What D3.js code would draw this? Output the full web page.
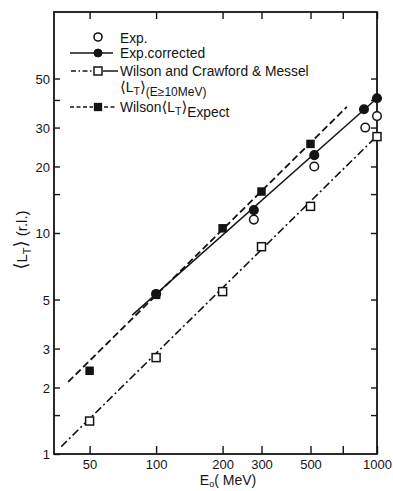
<!DOCTYPE html>
<meta charset="utf-8">
<script src="https://d3js.org/d3.v7.min.js"></script>
<title>Mean track length vs E0</title>
<style>
body { margin: 0; background: #fff; }
svg { font-family: "Liberation Sans", "DejaVu Sans", sans-serif; }
</style>
<svg width="393" height="491"></svg>
<script>

var expE = [277, 520, 885, 1000],
    expL = [11.5, 20, 30, 33.8];
var corrE = [100, 277, 520, 873, 1000],
    corrL = [5.3, 12.7, 22.5, 36.3, 40.7];
var wilsonE = [50, 100, 200, 300, 500, 1000],
    wilsonL = [1.41, 2.73, 5.43, 8.67, 13.2, 27.3];
var expectE = [50, 100, 200, 300, 500],
    expectL = [2.38, 5.25, 10.5, 15.4, 25.3];

// fitted lines (end points)
var corrFitE = [78, 1000], corrFitL = [4.25, 40.7];
var wilsonFitE = [37.2, 1000], wilsonFitL = [1.08, 27.5];
var expectFitE = [40, 730], expectFitL = [2.12, 37.2];

var xTicks = [50, 100, 200, 300, 500, 700, 1000],
    xLabels = [50, 100, 200, 300, 500, 1000];
var yTicks = [1, 1.5, 2, 3, 5, 10, 15, 20, 30, 40, 50],
    yLabels = [1, 2, 3, 5, 10, 20, 30, 50];

var svg = d3.select("svg"),
    width = +svg.attr("width"),
    height = +svg.attr("height"),
    margin = {top: 12, right: 16, bottom: 37, left: 54};

var x = d3.scaleLog().domain([34.5, 1000]).range([margin.left, width - margin.right]);
var y = d3.scaleLog().domain([1, 100]).range([height - margin.bottom, margin.top]);

var ink = "#141414";
var zip = (a, b) => a.map((v, i) => [v, b[i]]);
var line = d3.line().x(d => x(d[0])).y(d => y(d[1]));

// ticks, all pointing inward
var x0 = x.range()[0], x1 = x.range()[1], y0 = y.range()[0], y1 = y.range()[1];

var bottomAxis = svg.append("g")
    .attr("transform", `translate(0,${y0})`)
    .call(d3.axisBottom(x).tickValues(xTicks).tickSize(-8).tickFormat(d => xLabels.includes(d) ? d : ""))
    .call(g => g.select(".domain").remove());
svg.append("g")
    .attr("transform", `translate(0,${y1})`)
    .call(d3.axisTop(x).tickValues(xTicks).tickSize(-7).tickFormat(""))
    .call(g => g.select(".domain").remove());
var leftAxis = svg.append("g")
    .attr("transform", `translate(${x0},0)`)
    .call(d3.axisLeft(y).tickValues(yTicks).tickSize(-6).tickFormat(d => yLabels.includes(d) ? d : ""))
    .call(g => g.select(".domain").remove());
svg.append("g")
    .attr("transform", `translate(${x1},0)`)
    .call(d3.axisRight(y).tickValues(yTicks.slice(1)).tickSize(-6).tickFormat(""))
    .call(g => g.select(".domain").remove());

svg.selectAll(".tick line").attr("stroke", ink).attr("stroke-width", 1.4);
svg.selectAll(".tick text")
    .attr("fill", ink)
    .attr("font-size", 13);
bottomAxis.selectAll(".tick text").attr("dy", null).attr("y", 15);
leftAxis.selectAll(".tick text").attr("x", -4).attr("dy", "0.36em");

svg.append("rect")
    .attr("x", x0).attr("y", y1)
    .attr("width", x1 - x0).attr("height", y0 - y1)
    .attr("fill", "none").attr("stroke", ink).attr("stroke-width", 1.8);

// fit lines
svg.append("path").datum(zip(corrFitE, corrFitL))
    .attr("d", line).attr("fill", "none").attr("stroke", ink).attr("stroke-width", 1.5);
svg.append("path").datum(zip(wilsonFitE, wilsonFitL))
    .attr("d", line).attr("fill", "none").attr("stroke", ink).attr("stroke-width", 1.6)
    .attr("stroke-dasharray", "8,3,2,3");
svg.append("path").datum(zip(expectFitE, expectFitL))
    .attr("d", line).attr("fill", "none").attr("stroke", ink).attr("stroke-width", 1.8)
    .attr("stroke-dasharray", "7,3.5");

// markers
function circles(data, filled) {
  svg.append("g").selectAll("circle")
    .data(data)
    .join("circle")
      .attr("cx", d => x(d[0])).attr("cy", d => y(d[1])).attr("r", 4.3)
      .attr("fill", filled ? ink : "#fff")
      .attr("stroke", ink).attr("stroke-width", 1.5);
}
function squares(data, filled, s) {
  svg.append("g").selectAll("rect")
    .data(data)
    .join("rect")
      .attr("x", d => x(d[0]) - s / 2).attr("y", d => y(d[1]) - s / 2)
      .attr("width", s).attr("height", s)
      .attr("fill", filled ? ink : "#fff")
      .attr("stroke", ink).attr("stroke-width", 1.5);
}
circles(zip(expE, expL), false);
circles(zip(corrE, corrL), true);
squares(zip(wilsonE, wilsonL), false, 8);
squares(zip(expectE, expectL), true, 7);

// legend
var lg = svg.append("g").attr("fill", ink).attr("font-size", 13.8);
var mx = 98;

lg.append("circle").attr("cx", mx).attr("cy", 37).attr("r", 4).attr("fill", "#fff")
    .attr("stroke", ink).attr("stroke-width", 1.6);
lg.append("text").attr("x", 120).attr("y", 43).text("Exp.");

lg.append("line").attr("x1", 70).attr("x2", 113).attr("y1", 53).attr("y2", 53)
    .attr("stroke", ink).attr("stroke-width", 1.5);
lg.append("circle").attr("cx", mx).attr("cy", 53).attr("r", 4).attr("stroke", ink);
lg.append("text").attr("x", 120).attr("y", 58).text("Exp.corrected");

lg.append("line").attr("x1", 71).attr("x2", 93).attr("y1", 71).attr("y2", 71)
    .attr("stroke", ink).attr("stroke-width", 1.5).attr("stroke-dasharray", "5,2.5,1.5,2.5");
lg.append("line").attr("x1", 103).attr("x2", 118).attr("y1", 71).attr("y2", 71)
    .attr("stroke", ink).attr("stroke-width", 1.5);
lg.append("rect").attr("x", mx - 4).attr("y", 67).attr("width", 8).attr("height", 8)
    .attr("fill", "#fff").attr("stroke", ink).attr("stroke-width", 1.5);
lg.append("text").attr("x", 120).attr("y", 76).text("Wilson and Crawford & Messel");

var t4 = lg.append("text").attr("x", 120).attr("y", 92);
t4.append("tspan").attr("font-size", 15).text("\u27E8");
t4.append("tspan").text("L");
t4.append("tspan").attr("dy", 3).attr("font-size", 10.5).text("T");
t4.append("tspan").attr("dy", -3).attr("font-size", 15).text("\u27E9");
t4.append("tspan").attr("dy", 4).attr("font-size", 12).text("(E\u226510MeV)");

lg.append("line").attr("x1", 70).attr("x2", 93).attr("y1", 107).attr("y2", 107)
    .attr("stroke", ink).attr("stroke-width", 1.5).attr("stroke-dasharray", "4,2.5");
lg.append("line").attr("x1", 104).attr("x2", 116).attr("y1", 107).attr("y2", 107)
    .attr("stroke", ink).attr("stroke-width", 1.5).attr("stroke-dasharray", "4,2.5");
lg.append("rect").attr("x", mx - 3.5).attr("y", 103.5).attr("width", 7).attr("height", 7)
    .attr("stroke", ink).attr("stroke-width", 1.3);
var t5 = lg.append("text").attr("x", 120).attr("y", 112);
t5.append("tspan").text("Wilson");
t5.append("tspan").attr("font-size", 15).text("\u27E8");
t5.append("tspan").text("L");
t5.append("tspan").attr("dy", 3).attr("font-size", 10.5).text("T");
t5.append("tspan").attr("dy", -3).attr("font-size", 15).text("\u27E9");
t5.append("tspan").attr("dy", 5).text("Expect");

// axis titles
var yt = svg.append("text")
    .attr("transform", `translate(27,${(y0 + y1) / 2 + 7}) rotate(-90)`)
    .attr("text-anchor", "middle").attr("fill", ink).attr("font-size", 15);
yt.append("tspan").attr("font-size", 18).text("\u27E8");
yt.append("tspan").text("L");
yt.append("tspan").attr("dy", 4).attr("font-size", 11).text("T");
yt.append("tspan").attr("dy", -4).attr("font-size", 18).text("\u27E9");
yt.append("tspan").text(" (r.l.)");

var xt = svg.append("text")
    .attr("x", 228).attr("y", 485)
    .attr("text-anchor", "middle").attr("fill", ink).attr("font-size", 14);
xt.append("tspan").text("E");
xt.append("tspan").attr("dy", 2).attr("font-size", 9).text("o");
xt.append("tspan").attr("dy", -2).text("( MeV)");

</script>
